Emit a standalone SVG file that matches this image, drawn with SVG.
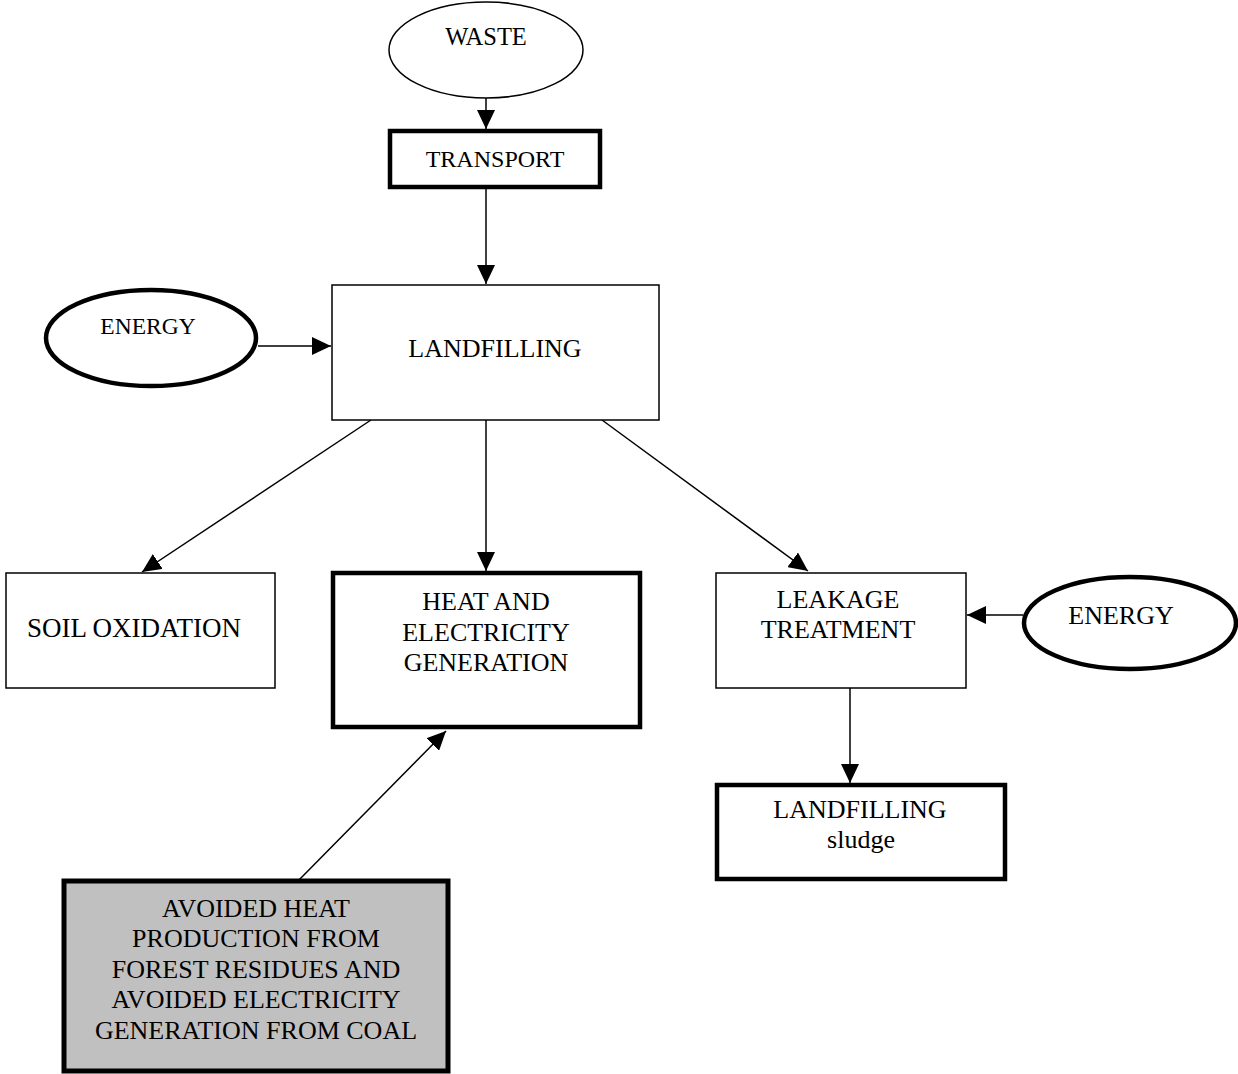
<svg xmlns="http://www.w3.org/2000/svg" width="1238" height="1074" viewBox="0 0 1238 1074">
  <style>
    text { font-family: "Liberation Serif", "Times New Roman", serif; fill: #000; text-anchor: middle; font-size: 26px; }
    .thin { fill: #fff; stroke: #000; stroke-width: 1.5; }
    .thick { fill: #fff; stroke: #000; stroke-width: 4.5; }
    .shaded { fill: #c0c0c0; stroke: #000; stroke-width: 5; }
    .edge { stroke: #000; stroke-width: 1.5; fill: none; marker-end: url(#arrow); }
  </style>
  <defs>
    <marker id="arrow" markerUnits="userSpaceOnUse" markerWidth="19" markerHeight="18" refX="19" refY="9" orient="auto">
      <path d="M0,0 L19,9 L0,18 Z" fill="#000"/>
    </marker>
  </defs>
  <rect width="1238" height="1074" fill="#fff"/>

  <!-- connectors -->
  <g id="connectors">
    <line class="edge" x1="486" y1="98" x2="486" y2="129"/>
    <line class="edge" x1="486" y1="188" x2="486" y2="284"/>
    <line class="edge" x1="258" y1="346" x2="331" y2="346"/>
    <line class="edge" x1="371" y1="420" x2="142" y2="572"/>
    <line class="edge" x1="486" y1="420" x2="486" y2="571"/>
    <line class="edge" x1="602" y1="420" x2="808" y2="571"/>
    <line class="edge" x1="1023" y1="615" x2="967" y2="615"/>
    <line class="edge" x1="850" y1="688" x2="850" y2="783"/>
    <line class="edge" x1="296" y1="883" x2="446" y2="731"/>
  </g>

  <!-- nodes -->
  <g id="waste">
    <ellipse class="thin" cx="486" cy="50" rx="97" ry="48"/>
    <text x="486" y="45" style="font-size:24.5px">WASTE</text>
  </g>
  <g id="transport">
    <rect class="thick" x="390" y="131" width="210" height="56"/>
    <text x="495" y="167" style="font-size:24px">TRANSPORT</text>
  </g>
  <g id="energy-in">
    <ellipse class="thick" cx="151" cy="338" rx="105" ry="48"/>
    <text x="148" y="334" style="font-size:23.5px">ENERGY</text>
  </g>
  <g id="landfilling">
    <rect class="thin" x="332" y="285" width="327" height="135"/>
    <text x="495" y="357">LANDFILLING</text>
  </g>
  <g id="soil-oxidation">
    <rect class="thin" x="6" y="573" width="269" height="115"/>
    <text x="134" y="637" style="font-size:27px">SOIL OXIDATION</text>
  </g>
  <g id="heat-electricity">
    <rect class="thick" x="333" y="573" width="307" height="154"/>
    <text x="486" y="610">HEAT AND</text>
    <text x="486" y="641">ELECTRICITY</text>
    <text x="486" y="671">GENERATION</text>
  </g>
  <g id="leakage-treatment">
    <rect class="thin" x="716" y="573" width="250" height="115"/>
    <text x="838" y="608">LEAKAGE</text>
    <text x="838" y="638">TREATMENT</text>
  </g>
  <g id="energy-leak">
    <ellipse class="thick" cx="1130" cy="623" rx="106" ry="46"/>
    <text x="1121" y="624">ENERGY</text>
  </g>
  <g id="landfilling-sludge">
    <rect class="thick" x="717" y="785" width="288" height="94"/>
    <text x="860" y="818">LANDFILLING</text>
    <text x="861" y="848">sludge</text>
  </g>
  <g id="avoided-production">
    <rect class="shaded" x="64" y="881" width="384" height="190"/>
    <g style="font-size:27px">
      <text x="256" y="917">AVOIDED HEAT</text>
      <text x="256" y="947">PRODUCTION FROM</text>
      <text x="256" y="978">FOREST RESIDUES AND</text>
      <text x="256" y="1008">AVOIDED ELECTRICITY</text>
      <text x="256" y="1039">GENERATION FROM COAL</text>
    </g>
  </g>
</svg>
